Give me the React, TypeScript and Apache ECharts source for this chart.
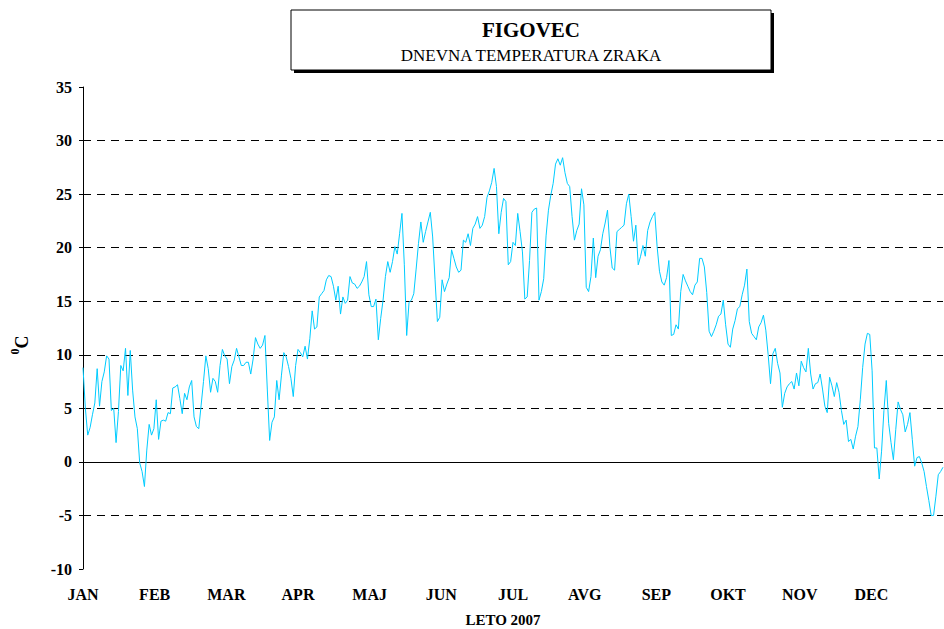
import React, { useEffect, useRef } from "react";
import * as echarts from "echarts";

const MONTHS = ["JAN", "FEB", "MAR", "APR", "MAJ", "JUN", "JUL", "AVG", "SEP", "OKT", "NOV", "DEC"];

const JAN = [8.8, 5.0, 2.5, 3.2, 4.4, 5.5, 8.7, 5.2, 7.5, 8.4, 9.9, 9.6, 4.8, 5.0, 1.8, 4.7, 9.0, 8.5, 10.6, 6.2, 10.4, 6.7, 4.2, 3.1, -0.1, -0.9, -2.3, 1.1, 3.5, 2.5, 3.1];
const FEB = [5.8, 2.1, 3.8, 3.9, 3.8, 4.6, 4.5, 6.9, 7.0, 7.2, 5.9, 4.5, 6.4, 5.8, 7.0, 7.6, 4.2, 3.3, 3.1, 5.3, 7.5, 9.9, 8.7, 6.5, 7.8, 7.5, 6.5, 9.0];
const MAR = [10.5, 9.9, 9.6, 7.3, 8.9, 9.5, 10.6, 9.8, 9.0, 9.0, 9.3, 9.3, 8.2, 9.6, 11.6, 11.0, 10.6, 10.9, 11.8, 6.8, 2.0, 3.7, 4.2, 7.6, 5.8, 8.1, 10.2, 9.8, 8.9, 7.8, 6.1];
const APR = [9.0, 10.5, 10.2, 9.8, 10.8, 9.6, 11.5, 14.1, 12.4, 12.6, 15.4, 15.7, 16.0, 17.0, 17.4, 17.3, 16.4, 15.1, 16.4, 13.8, 15.4, 14.8, 15.1, 17.3, 16.7, 16.6, 16.2, 16.4, 16.8, 17.3];
const MAY = [18.7, 15.6, 14.5, 14.5, 15.2, 11.4, 13.4, 15.1, 17.3, 18.7, 17.7, 18.7, 20.1, 19.4, 21.3, 23.2, 18.4, 11.8, 14.9, 15.1, 15.7, 18.0, 20.4, 22.4, 20.5, 21.5, 22.4, 23.3, 21.0, 17.0, 13.1];
const JUN = [13.5, 17.0, 15.9, 16.6, 17.2, 19.8, 19.0, 18.2, 17.7, 17.9, 20.7, 20.5, 21.3, 20.2, 21.8, 22.2, 22.9, 21.8, 22.1, 22.9, 24.7, 25.3, 26.1, 27.4, 25.7, 21.3, 23.3, 24.6, 24.3, 18.4];
const JUL = [18.7, 20.5, 20.2, 23.2, 21.5, 19.6, 15.2, 15.4, 18.8, 23.3, 23.6, 23.7, 15.1, 15.9, 17.1, 21.1, 23.5, 24.9, 26.0, 27.8, 28.3, 27.7, 28.4, 27.0, 26.0, 25.7, 22.9, 20.7, 21.6, 22.2, 25.5];
const AUG = [24.0, 16.3, 15.9, 17.3, 20.9, 17.2, 19.2, 19.8, 21.3, 22.3, 23.5, 20.1, 18.1, 17.9, 21.5, 21.7, 21.9, 22.1, 24.1, 25.0, 22.9, 20.6, 22.1, 18.4, 19.2, 20.2, 19.2, 21.6, 22.4, 22.9, 23.3];
const SEP = [20.1, 17.8, 16.8, 16.5, 17.2, 18.8, 11.8, 11.9, 12.8, 12.4, 15.9, 17.5, 16.9, 16.4, 15.9, 15.6, 16.5, 16.8, 19.0, 19.0, 18.2, 15.8, 12.2, 11.7, 12.2, 12.8, 13.6, 13.8, 15.1, 12.8];
const OCT = [11.0, 10.7, 12.4, 13.2, 14.3, 14.5, 15.6, 16.5, 18.0, 13.1, 12.0, 11.7, 11.4, 12.6, 13.0, 13.7, 12.3, 10.0, 7.3, 10.1, 10.6, 9.2, 8.3, 5.1, 6.4, 7.0, 7.3, 7.5, 6.8, 8.3, 7.1];
const NOV = [9.4, 8.8, 8.4, 10.6, 8.2, 6.8, 7.3, 7.4, 8.2, 6.8, 5.2, 4.6, 7.9, 7.1, 6.1, 7.4, 6.5, 4.8, 3.5, 3.9, 1.9, 2.1, 1.2, 2.4, 3.3, 5.8, 8.8, 11.0, 12.0, 11.9];
const DEC = [8.5, 1.3, 1.3, -1.6, 1.0, 4.8, 7.6, 3.6, 1.8, 0.2, 3.0, 5.6, 4.9, 4.4, 2.8, 3.5, 4.6, 2.1, -0.4, 0.4, 0.5, -0.1, -0.9, -2.3, -3.6, -5.0, -5.0, -3.2, -1.2, -0.9, -0.5];

const TEMPS = [...JAN, ...FEB, ...MAR, ...APR, ...MAY, ...JUN, ...JUL, ...AUG, ...SEP, ...OCT, ...NOV, ...DEC];

const TITLE = "FIGOVEC";
const SUBTITLE = "DNEVNA TEMPERATURA ZRAKA";
const X_NAME = "LETO 2007";
const Y_NAME = "{sup|0}{c|C}";

const FONT = "'Liberation Serif', 'Times New Roman', serif";

export default function App() {
  const ref = useRef<HTMLDivElement>(null);
  useEffect(() => {
    if (!ref.current) return;
    const chart = echarts.init(ref.current, null, { renderer: "svg" });
    const lastIdx = TEMPS.length - 1;
    const step = lastIdx / 12;
    const T = "rgba(0,0,0,0)";
    chart.setOption({
      animation: false,
      backgroundColor: "#fff",
      textStyle: { fontFamily: FONT },
      grid: { left: 83, right: 1, top: 87, bottom: 60, containLabel: false, outerBoundsMode: "none" },
      xAxis: {
        type: "value",
        min: 0,
        max: lastIdx,
        interval: step,
        axisLine: { show: false },
        axisTick: { show: false },
        splitLine: { show: false },
        axisLabel: {
          margin: 17,
          color: "#000",
          fontFamily: FONT,
          fontWeight: "bold",
          fontSize: 16,
          formatter: (v: number) => MONTHS[Math.round(v / step)] ?? "",
        },
      },
      yAxis: {
        type: "value",
        min: -10,
        max: 35,
        interval: 5,
        axisLine: { show: true, lineStyle: { color: "#000", width: 1 } },
        axisTick: { show: true, length: 4, lineStyle: { color: "#000" } },
        axisLabel: { color: "#000", fontFamily: FONT, fontWeight: "bold", fontSize: 16, margin: 11 },
        splitLine: {
          show: true,
          lineStyle: {
            type: [8, 6],
            width: 1,
            color: [T, "#000", T, "#000", "#000", "#000", "#000", "#000", "#000", T],
          },
        },
      },
      series: [
        {
          type: "line",
          data: TEMPS.map((v, i) => [i, v]),
          symbol: "none",
          lineStyle: { color: "#00ccff", width: 1 },
          z: 3,
          markLine: {
            silent: true,
            symbol: "none",
            label: { show: false },
            lineStyle: { color: "#000", type: "solid", width: 1 },
            data: [{ yAxis: 0 }],
            z: 2,
          },
        },
      ],
      graphic: [
        { type: "rect", shape: { x: 294, y: 13, width: 480, height: 60 }, style: { fill: "#000" }, z: 10 },
        { type: "rect", shape: { x: 291, y: 10, width: 480, height: 60 }, style: { fill: "#fff", stroke: "#000", lineWidth: 1 }, z: 11 },
        {
          type: "text",
          x: 531,
          y: 30,
          z: 12,
          style: { text: TITLE, fontFamily: FONT, fontWeight: "bold", fontSize: 21, fill: "#000", align: "center", verticalAlign: "middle" },
        },
        {
          type: "text",
          x: 531,
          y: 55,
          z: 12,
          style: { text: SUBTITLE, fontFamily: FONT, fontSize: 17, fill: "#000", align: "center", verticalAlign: "middle" },
        },
        {
          type: "text",
          x: 503,
          y: 620,
          z: 12,
          style: { text: X_NAME, fontFamily: FONT, fontWeight: "bold", fontSize: 15, fill: "#000", align: "center", verticalAlign: "middle" },
        },
        {
          type: "text",
          x: 20,
          y: 345,
          rotation: Math.PI / 2,
          z: 12,
          style: {
            text: Y_NAME,
            align: "center",
            verticalAlign: "middle",
            rich: {
              sup: { fontFamily: FONT, fontWeight: "bold", fontSize: 12, lineHeight: 22, verticalAlign: "top", fill: "#000" },
              c: { fontFamily: FONT, fontWeight: "bold", fontSize: 18, lineHeight: 22, verticalAlign: "bottom", fill: "#000" },
            },
          },
        },
      ],
    });
    return () => chart.dispose();
  }, []);
  return <div ref={ref} style={{ position: "fixed", left: 0, top: 0, width: 944, height: 629, background: "#fff" }} />;
}
